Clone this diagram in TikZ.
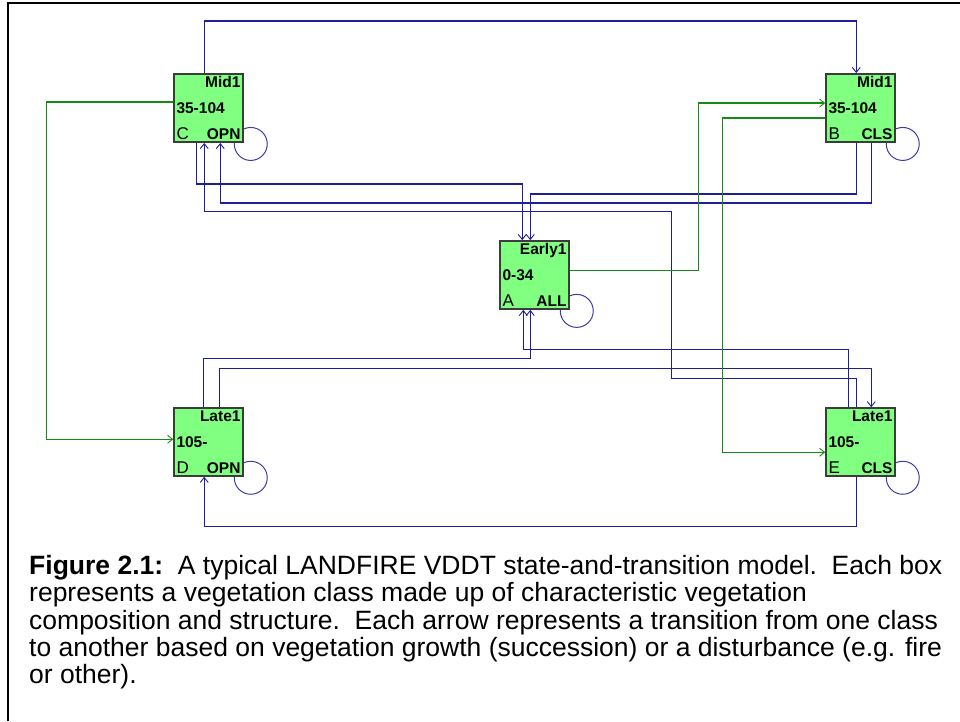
\documentclass[tikz,border=0pt]{standalone}
\usepackage{fontspec}
\setmainfont{Liberation Sans}
\usetikzlibrary{arrows.meta, backgrounds}
\definecolor{classgreen}{RGB}{128,255,128}
\definecolor{classedge}{RGB}{60,60,60}
\definecolor{transblue}{RGB}{30,30,150}
\definecolor{loopblue}{RGB}{60,60,170}
\definecolor{growgreen}{RGB}{20,140,20}
\tikzstyle{vclass} = [rectangle, minimum width=69pt, minimum height=68pt, inner sep=2.5pt, text width=64pt, align=left, draw=classedge, line width=1.5pt, fill=classgreen, font=\fontsize{15.5}{26}\selectfont\bfseries]
\tikzstyle{trans} = [draw=transblue, line width=1.3pt, -{Straight Barb[length=5pt,width=8pt,line width=0.9pt]}]
\tikzstyle{growth} = [draw=growgreen, line width=1.2pt, -{Straight Barb[length=5pt,width=8pt,line width=0.9pt]}]
\tikzstyle{selfloop} = [draw=loopblue, line width=1pt]
\tikzstyle{frameline} = [draw=black, line width=2pt]
\newcommand{\cls}[1]{{\fontsize{17}{26}\selectfont\mdseries #1}}

\begin{document}
\begin{tikzpicture}[x=1pt, y=-1pt]
        \useasboundingbox (0,0) rectangle (960,721);
        \draw [frameline] (8,721) -- (8,3) -- (960,3);

        \node (C) [vclass] at (208.5,108) {\hspace*{\fill}Mid1\\35-104\\\cls{C}\hfill OPN};
        \node (B) [vclass] at (860.5,108) {\hspace*{\fill}Mid1\\35-104\\\cls{B}\hfill CLS};
        \node (A) [vclass] at (534.5,275) {\hspace*{\fill}Early1\\0-34\\\cls{A}\hfill ALL};
        \node (D) [vclass] at (208.5,442) {\hspace*{\fill}Late1\\105-\\\cls{D}\hfill OPN};
        \node (E) [vclass] at (860.5,442) {\hspace*{\fill}Late1\\105-\\\cls{E}\hfill CLS};

        % self loops behind the boxes
        \begin{scope}[on background layer]
        \draw [selfloop] ([shift={(7,1)}]C.south east) circle (16.5);
        \draw [selfloop] ([shift={(7,1)}]B.south east) circle (16.5);
        \draw [selfloop] ([shift={(7,1)}]A.south east) circle (16.5);
        \draw [selfloop] ([shift={(7,1)}]D.south east) circle (16.5);
        \draw [selfloop] ([shift={(7,1)}]E.south east) circle (16.5);
        \end{scope}

        % transitions
        \draw [trans] ([xshift=31pt]C.north west) -- ++(0,-52) -| ([xshift=31pt]B.north west);
        \draw [trans] ([xshift=23pt]C.south west) -- ++(0,41) -| ([xshift=23pt]A.north west);
        \draw [trans] ([xshift=31pt]B.south west) -- ++(0,51) -| ([xshift=31pt]A.north west);
        \draw [trans] ([xshift=46pt]B.south west) -- ++(0,60) -| ([xshift=47pt]C.south west);
        \draw [trans] ([xshift=31pt]E.north west) -- ++(0,-29) -- ++(-185,0) -- ++(0,-167) -| ([xshift=31pt]C.south west);
        \draw [trans] ([xshift=23pt]E.north west) -- ++(0,-58) -| ([xshift=24pt]A.south west);
        \draw [trans] ([xshift=30pt]D.north west) -- ++(0,-49) -| ([xshift=31pt]A.south west);
        \draw [trans] ([xshift=46pt]D.north west) -- ++(0,-39) -| ([xshift=46pt]E.north west);
        \draw [trans] ([xshift=31pt]E.south west) -- ++(0,50) -| ([xshift=31pt]D.south west);
        \draw [growth] ([yshift=-29pt]C.north west) -- ++(-127,0) |- ([yshift=-32pt]D.north west);
        \draw [growth] ([yshift=-30pt]A.north east) -- ++(129,0) |- ([yshift=-30pt]B.north west);
        \draw [growth] ([yshift=-45pt]B.north west) -- ++(-103,0) |- ([yshift=-45pt]E.north west);

        \node (caption) [anchor=north west, inner sep=0pt, align=left, font=\fontsize{26.5}{27.3}\selectfont] at (29,555) {\textbf{Figure 2.1:}\ \ A typical LANDFIRE VDDT state-and-transition model.\ \ Each box\\represents a vegetation class made up of characteristic vegetation\\composition and structure.\ \ Each arrow represents a transition from one class\\to another based on vegetation growth (succession) or a disturbance (e.g. fire\\or other).};

\end{tikzpicture}
\end{document}
